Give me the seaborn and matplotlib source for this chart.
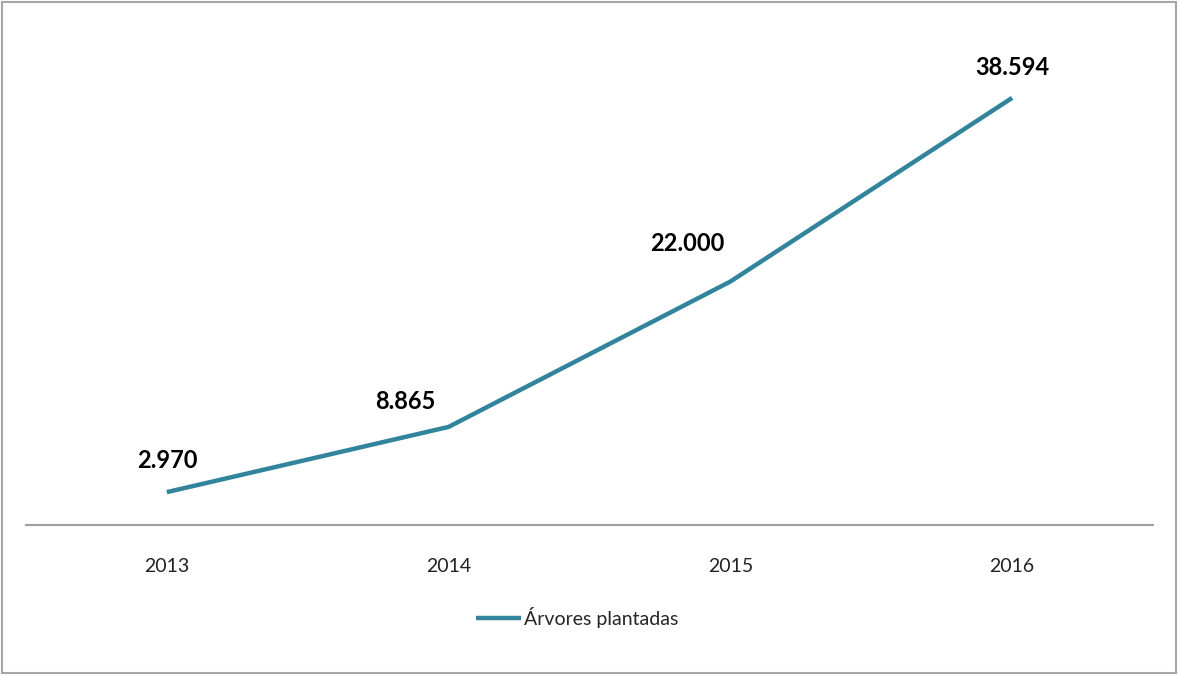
import matplotlib
matplotlib.use("Agg")
import matplotlib.pyplot as plt
import matplotlib.patches as patches
import seaborn as sns
import pandas as pd

# %% Data
anos = ["2013", "2014", "2015", "2016"]
arvores = [2970, 8865, 22000, 38594]
serie = "Árvores plantadas"

# label offsets in pixels (dx, dy) relative to each point
label_offsets = [(0, 32), (-43, 25), (-43, 38), (0, 30)]

df = pd.DataFrame({"ano": anos, "valor": arvores})

# %% Plot
sns.set_style("white")
plt.rcParams["font.family"] = ["Lato", "DejaVu Sans"]

fig = plt.figure(figsize=(11.78, 6.76), dpi=100)
ax = fig.add_axes([26 / 1178, 151 / 676, 1127 / 1178, 498 / 676])

sns.lineplot(data=df, x="ano", y="valor", ax=ax, color="#31849B",
             linewidth=3.2, label=serie, sort=False)
ax.lines[0].set_solid_capstyle("butt")

ax.set_xlim(-0.5, len(anos) - 0.5)
ax.set_ylim(0, 45000)
ax.set_xlabel("")
ax.set_ylabel("")
ax.set_yticks([])
ax.tick_params(axis="x", length=0, pad=24, labelsize=14, labelcolor="#222222")

for s in ["left", "right", "top"]:
    ax.spines[s].set_visible(False)
ax.spines["bottom"].set_color("#a0a0a0")
ax.spines["bottom"].set_linewidth(1.5)

for i, (v, off) in enumerate(zip(arvores, label_offsets)):
    ax.annotate(f"{v:,}".replace(",", "."), (i, v), xytext=off,
                textcoords="offset pixels", ha="center", va="center",
                fontsize=17, fontweight="bold", color="black")

ax.legend(loc="center", bbox_to_anchor=(0.49, 59 / 676),
          bbox_transform=fig.transFigure, frameon=False, fontsize=14,
          handlelength=2.3, handletextpad=0.15)

fig.patches.append(patches.Rectangle((2 / 1178, 3 / 676), 1174 / 1178, 671 / 676,
                                     transform=fig.transFigure, fill=False,
                                     edgecolor="#a6a6a6", linewidth=1.5))

fig.savefig("out.png", dpi=100)
